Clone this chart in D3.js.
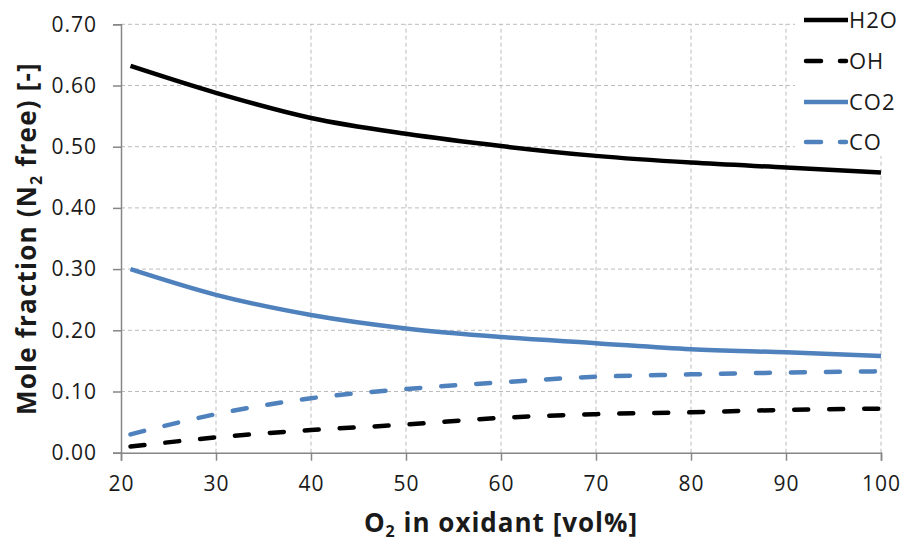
<!DOCTYPE html>
<html>
<head>
<meta charset="utf-8">
<script src="https://cdn.jsdelivr.net/npm/d3@7"></script>
<style>
  body { margin: 0; background: #fff; }
  text { font-family: "Open Sans", "Noto Sans", sans-serif; fill: #1a1a1a; }
</style>
</head>
<body>
<div id="chart"></div>
<script>
// O2 concentration in oxidant [vol%]
const o2 = [21, 30, 40, 50, 60, 70, 80, 90, 100];
// Mole fractions (N2 free)
const h2o = [0.632, 0.588, 0.547, 0.521, 0.501, 0.485, 0.474, 0.466, 0.458];
const oh  = [0.010, 0.025, 0.037, 0.046, 0.057, 0.063, 0.066, 0.070, 0.072];
const co2 = [0.300, 0.258, 0.225, 0.203, 0.189, 0.179, 0.169, 0.164, 0.158];
const co  = [0.030, 0.063, 0.089, 0.104, 0.115, 0.124, 0.128, 0.131, 0.133];

const xTicks = [20, 30, 40, 50, 60, 70, 80, 90, 100];
const yTicks = [0, 0.1, 0.2, 0.3, 0.4, 0.5, 0.6, 0.7];

const seriesNames = ["H2O", "OH", "CO2", "CO"];
const seriesValues = [h2o, oh, co2, co];
const seriesColors = ["#000000", "#000000", "#4f81bd", "#4f81bd"];
const seriesDashed = [false, true, false, true];

const width = 905, height = 544;
const margin = { top: 24.3, right: 24, bottom: 91.3, left: 121 };

const svg = d3.select("#chart")
    .append("svg")
    .attr("width", width)
    .attr("height", height);

const x = d3.scaleLinear()
    .domain([20, 100])
    .range([margin.left, width - margin.right]);

const y = d3.scaleLinear()
    .domain([0, 0.7])
    .range([height - margin.bottom, margin.top]);

// grid lines
svg.append("g")
    .selectAll("line")
    .data(yTicks.slice(1))
    .join("line")
    .attr("x1", x(20)).attr("x2", x(100))
    .attr("y1", d => y(d)).attr("y2", d => y(d))
    .attr("stroke", "#bcbcbc")
    .attr("stroke-width", 1)
    .attr("stroke-dasharray", "4,3");

svg.append("g")
    .selectAll("line")
    .data(xTicks.slice(1))
    .join("line")
    .attr("x1", d => x(d)).attr("x2", d => x(d))
    .attr("y1", y(0)).attr("y2", y(0.7))
    .attr("stroke", "#bcbcbc")
    .attr("stroke-width", 1)
    .attr("stroke-dasharray", "4,3");

// axes
const yAxis = svg.append("g")
    .attr("transform", "translate(" + x(20) + ",0)")
    .call(d3.axisLeft(y).tickValues(yTicks).tickFormat(d3.format(".2f")).tickSize(8).tickPadding(16));

const xAxis = svg.append("g")
    .attr("transform", "translate(0," + y(0) + ")")
    .call(d3.axisBottom(x).tickValues(xTicks).tickSize(8).tickPadding(15));

[xAxis, yAxis].forEach(a => {
    a.select(".domain").attr("stroke", "#868686").attr("stroke-width", 1.5);
    a.selectAll(".tick line").attr("stroke", "#868686").attr("stroke-width", 1.5);
    a.selectAll(".tick text")
        .attr("fill", "#1a1a1a")
        .style("font-family", "'Open Sans', sans-serif")
        .style("font-size", "21px")
        .style("letter-spacing", "1px");
});

// lines
const line = d3.line()
    .x(d => x(d[0]))
    .y(d => y(d[1]))
    .curve(d3.curveMonotoneX);

seriesValues.forEach((vals, i) => {
    svg.append("path")
        .datum(o2.map((v, j) => [v, vals[j]]))
        .attr("fill", "none")
        .attr("stroke", seriesColors[i])
        .attr("stroke-width", 4.5)
        .attr("stroke-linecap", seriesDashed[i] ? "round" : "butt")
        .attr("stroke-dasharray", seriesDashed[i] ? "14,21" : null)
        .attr("d", line);
});

// legend
const legend = svg.append("g");
legend.append("rect")
    .attr("x", 795).attr("y", 0)
    .attr("width", 110).attr("height", 156)
    .attr("fill", "#fff");

const legendY = [20, 61, 102, 142];
seriesNames.forEach((name, i) => {
    const g = legend.append("g").attr("transform", "translate(0," + legendY[i] + ")");
    if (seriesDashed[i]) {
        g.append("line").attr("x1", 806).attr("x2", 821).attr("y1", 0).attr("y2", 0)
            .attr("stroke", seriesColors[i]).attr("stroke-width", 4.5).attr("stroke-linecap", "round");
        g.append("line").attr("x1", 840).attr("x2", 846).attr("y1", 0).attr("y2", 0)
            .attr("stroke", seriesColors[i]).attr("stroke-width", 4.5).attr("stroke-linecap", "round");
    } else {
        g.append("line").attr("x1", 804).attr("x2", 848).attr("y1", 0).attr("y2", 0)
            .attr("stroke", seriesColors[i]).attr("stroke-width", 4.5);
    }
    g.append("text")
        .attr("x", 849).attr("y", 8)
        .style("font-size", "22px")
        .style("letter-spacing", "1px")
        .text(name);
});

// axis titles
const xTitle = svg.append("text")
    .attr("x", (x(20) + x(100)) / 2)
    .attr("y", 532)
    .attr("text-anchor", "middle")
    .style("font-size", "26px")
    .style("letter-spacing", "1px")
    .style("font-weight", "bold");
xTitle.append("tspan").text("O");
xTitle.append("tspan").attr("dy", 5).style("font-size", "16px").text("2");
xTitle.append("tspan").attr("dy", -5).text(" in oxidant [vol%]");

const yTitle = svg.append("text")
    .attr("transform", "translate(36," + (y(0) + y(0.7)) / 2 + ") rotate(-90)")
    .attr("text-anchor", "middle")
    .style("font-size", "26px")
    .style("letter-spacing", "1.2px")
    .style("font-weight", "bold");
yTitle.append("tspan").text("Mole fraction (N");
yTitle.append("tspan").attr("dy", 6).style("font-size", "16px").text("2");
yTitle.append("tspan").attr("dy", -6).text(" free) [-]");
</script>
</body>
</html>
